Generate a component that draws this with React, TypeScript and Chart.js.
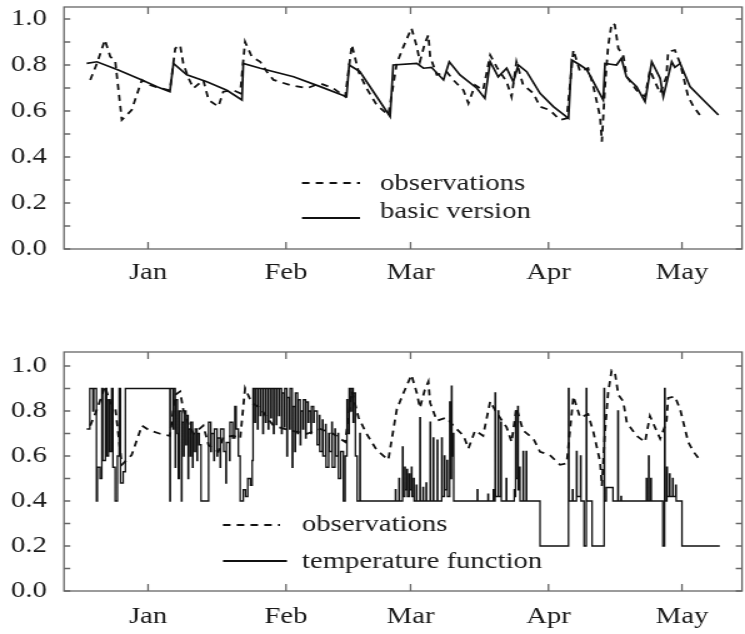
import React, { useEffect, useRef } from "react";
import { Chart, registerables } from "chart.js";

Chart.register(...registerables);

// ---------- axis data ----------
const monthDays = [0, 31, 59, 90, 120];
const monthLabels = ["Jan", "Feb", "Mar", "Apr", "May"];
const yTickValues = [0, 0.2, 0.4, 0.6, 0.8, 1.0];
const yMinorTicks = [0, 0.1, 0.2, 0.3, 0.4, 0.5, 0.6, 0.7, 0.8, 0.9, 1.0];
const xMin = -18.9;
const xMax = 133.5;

// ---------- series: observations (day of year, value) ----------
const obsDays = [
  -13.0, -11.5, -9.7, -8.5, -7.4, -5.9, -3.7, -1.4, 0.4, 2.7,
  4.9, 6.1, 7.2, 7.9, 9.1, 10.2, 12.4, 13.6, 15.8, 16.9,
  19.2, 20.7, 21.8, 23.3, 25.2, 26.7, 28.2, 31.9, 35.7, 38.7,
  41.6, 44.3, 45.8, 47.3, 49.1, 51.4, 54.0, 55.9, 57.4, 59.2,
  60.4, 61.1, 62.2, 63.0, 63.4, 64.9, 67.1, 68.6, 70.9, 72.0,
  73.5, 75.3, 76.9, 78.4, 80.6, 81.7, 82.8, 84.3, 86.6, 88.1,
  90.3, 92.6, 94.1, 95.6, 97.1, 98.9, 100.1, 101.6, 102.0, 102.7,
  103.4, 104.2, 104.9, 105.7, 106.8, 107.6, 109.8, 111.7, 112.8, 113.6,
  115.1, 116.5, 116.9, 118.4, 119.6, 121.4, 122.6, 124.0,
];
const obsValues = [
  0.735, 0.807, 0.909, 0.836, 0.82, 0.561, 0.604, 0.735, 0.713, 0.699,
  0.69, 0.872, 0.887, 0.807, 0.742, 0.699, 0.735, 0.648, 0.619, 0.684,
  0.69, 0.677, 0.901, 0.836, 0.814, 0.771, 0.735, 0.713, 0.699, 0.72,
  0.699, 0.662, 0.887, 0.771, 0.699, 0.626, 0.583, 0.807, 0.88, 0.96,
  0.88, 0.814, 0.894, 0.93, 0.836, 0.757, 0.771, 0.735, 0.69, 0.633,
  0.713, 0.69, 0.843, 0.79, 0.727, 0.662, 0.814, 0.713, 0.677, 0.619,
  0.604, 0.561, 0.568, 0.865, 0.771, 0.786, 0.706, 0.575, 0.467, 0.706,
  0.88, 0.981, 0.975, 0.872, 0.843, 0.749, 0.69, 0.662, 0.778, 0.742,
  0.677, 0.749, 0.858, 0.865, 0.807, 0.662, 0.619, 0.583,
];

// ---------- series: basic version ----------
const basicDays = [
  -13.8, -11.5, -6.7, -1.4, 2.0, 4.9, 5.7, 8.7, 13.2, 17.7,
  21.1, 21.4, 25.2, 32.7, 38.7, 44.6, 45.2, 47.6, 51.4, 54.4,
  55.1, 60.4, 61.9, 63.7, 66.4, 67.7, 70.1, 73.9, 75.7, 76.9,
  78.7, 80.6, 82.1, 83.2, 85.1, 88.1, 91.1, 94.5, 95.2, 97.1,
  98.6, 100.1, 102.3, 102.7, 105.3, 106.4, 107.5, 109.8, 111.7, 113.2,
  115.1, 115.8, 117.7, 118.4, 119.6, 121.8, 124.8, 128.2,
];
const basicValues = [
  0.807, 0.814, 0.778, 0.735, 0.705, 0.684, 0.807, 0.757, 0.727, 0.69,
  0.648, 0.807, 0.786, 0.749, 0.706, 0.662, 0.80, 0.771, 0.662, 0.575,
  0.80, 0.807, 0.786, 0.79, 0.735, 0.814, 0.757, 0.699, 0.655, 0.814,
  0.749, 0.786, 0.727, 0.80, 0.771, 0.677, 0.619, 0.568, 0.822, 0.80,
  0.78, 0.727, 0.648, 0.807, 0.80, 0.829, 0.749, 0.706, 0.641, 0.814,
  0.742, 0.662, 0.814, 0.79, 0.807, 0.706, 0.648, 0.583,
];

// ---------- series: temperature function (stepped, value holds until next day) ----------
const tempDays = [
  -13.8, -13.1, -12.4, -12.2, -11.6, -11.4, -10.8, -10.4, -10.2, -9.6,
  -9.3, -8.9, -8.6, -8.2, -7.9, -7.4, -6.9, -6.5, -6.2, -5.6, -5.1,
  4.9, 5.0, 5.6, 5.7, 6.1, 6.2, 6.6, 6.8, 7.0, 7.5,
  7.6, 8.0, 8.1, 8.5, 8.6, 9.0, 9.1, 9.5, 9.6, 10.0,
  10.1, 10.5, 10.6, 11.0, 11.1, 11.5, 11.9,
  13.6, 14.1, 14.2, 14.8, 14.9, 15.5, 15.6, 16.2, 16.3, 17.0,
  17.5, 17.6, 18.3, 18.4, 19.0, 19.5, 19.8, 20.3, 20.7, 21.4,
  21.9, 22.4, 23.0, 23.4, 23.6,
  24.0, 24.12, 24.6, 24.72, 25.2, 25.32, 25.8, 25.92, 26.4, 26.52,
  27.0, 27.12, 27.6, 27.72, 28.2, 28.32, 28.8, 28.92, 29.4, 29.52,
  30.0, 30.12, 30.6, 30.72, 31.2, 31.32, 31.8, 31.92, 32.4, 32.52,
  33.0, 33.12, 33.6, 33.72, 34.2, 34.32, 34.8, 34.92, 35.4, 35.52,
  36.0, 36.12, 36.6, 36.72, 37.2, 37.32,
  38.0, 38.5, 38.6, 39.2, 39.3, 39.9, 40.0, 40.6, 40.7, 41.3,
  41.4, 42.0, 42.1, 42.7, 42.8, 43.3, 43.9, 44.3, 44.7, 44.8,
  45.2, 45.6, 45.7, 46.1, 46.2, 46.6, 47.0, 47.6, 47.7,
  55.6, 55.7, 56.4, 56.5, 57.2, 57.3, 57.7, 57.8, 58.2, 58.3,
  58.7, 58.8, 59.2, 59.3, 59.7, 59.8, 60.3, 60.4, 61.1, 61.2,
  61.8, 61.9, 62.5, 62.6, 63.4, 63.5, 64.1, 64.2, 65.0, 65.1,
  66.0, 66.1, 66.6, 66.7, 67.2, 67.3, 67.8, 67.9, 68.2, 68.3,
  68.6, 68.7,
  74.0, 74.1, 76.4, 76.5, 77.6, 77.7, 78.0, 78.1, 78.7, 78.8,
  79.3, 79.4, 80.5, 80.6, 82.3, 82.4, 82.6, 82.7, 83.1, 83.2,
  83.5, 83.6, 84.3, 84.4, 85.0, 85.1,
  88.1, 94.5, 94.6, 95.4, 95.5, 96.3, 96.4, 97.2, 97.3, 98.0,
  98.5, 98.6, 99.8, 102.5, 102.6, 103.0, 104.5, 105.6, 105.7, 106.3,
  106.4, 112.0, 112.1, 112.5, 112.6, 113.0, 113.1, 115.7, 116.1, 116.2,
  116.6, 116.7, 117.2, 117.3, 117.9, 118.0, 118.6, 118.7, 120.0, 128.5,
];
const tempValues = [
  0.72, 0.9, 0.8, 0.9, 0.4, 0.55, 0.5, 0.9, 0.58, 0.9,
  0.6, 0.85, 0.62, 0.9, 0.55, 0.4, 0.6, 0.9, 0.48, 0.53, 0.9,
  0.4, 0.9, 0.72, 0.9, 0.55, 0.85, 0.7, 0.5, 0.8, 0.4,
  0.75, 0.6, 0.8, 0.65, 0.78, 0.5, 0.72, 0.6, 0.75, 0.55,
  0.7, 0.62, 0.72, 0.58, 0.7, 0.65, 0.4,
  0.75, 0.62, 0.7, 0.58, 0.72, 0.6, 0.68, 0.55, 0.72, 0.62,
  0.48, 0.66, 0.58, 0.75, 0.68, 0.82, 0.72, 0.6, 0.4, 0.45,
  0.42, 0.5, 0.47, 0.58, 0.9,
  0.75, 0.9, 0.72, 0.9, 0.78, 0.9, 0.7, 0.9, 0.75, 0.9,
  0.72, 0.9, 0.77, 0.9, 0.7, 0.9, 0.74, 0.9, 0.78, 0.9,
  0.7, 0.88, 0.73, 0.9, 0.6, 0.86, 0.72, 0.9, 0.55, 0.82,
  0.62, 0.88, 0.7, 0.85, 0.65, 0.8, 0.72, 0.85, 0.68, 0.84,
  0.75, 0.8, 0.7, 0.82, 0.75, 0.8,
  0.65, 0.78, 0.62, 0.76, 0.6, 0.74, 0.55, 0.7, 0.62, 0.75,
  0.55, 0.72, 0.6, 0.7, 0.5, 0.62, 0.4, 0.6, 0.85, 0.7,
  0.9, 0.8, 0.9, 0.75, 0.88, 0.6, 0.4, 0.7, 0.4,
  0.45, 0.4, 0.5, 0.4, 0.64, 0.42, 0.55, 0.45, 0.54, 0.42,
  0.52, 0.45, 0.55, 0.42, 0.5, 0.4, 0.47, 0.4, 0.77, 0.4,
  0.46, 0.4, 0.48, 0.4, 0.75, 0.4, 0.68, 0.4, 0.67, 0.4,
  0.68, 0.42, 0.6, 0.45, 0.58, 0.42, 0.84, 0.5, 0.91, 0.6,
  0.7, 0.4,
  0.45, 0.4, 0.43, 0.4, 0.45, 0.4, 0.88, 0.42, 0.8, 0.42,
  0.75, 0.4, 0.5, 0.4, 0.45, 0.42, 0.8, 0.5, 0.82, 0.45,
  0.55, 0.4, 0.62, 0.4, 0.62, 0.4,
  0.2, 0.9, 0.4, 0.45, 0.4, 0.62, 0.42, 0.6, 0.4, 0.2,
  0.9, 0.4, 0.2, 0.9, 0.4, 0.46, 0.4, 0.8, 0.4, 0.42,
  0.4, 0.5, 0.4, 0.6, 0.4, 0.5, 0.4, 0.2, 0.9, 0.4,
  0.55, 0.42, 0.52, 0.42, 0.5, 0.42, 0.47, 0.4, 0.2, 0.2,
];

const obsLabel = "observations";
const basicLabel = "basic version";
const tempLabel = "temperature function";

// ---------- drawing settings ----------
const FONT = '"Liberation Serif", "Times New Roman", Times, serif';
const FONT_SIZE = 23;
const TEXT_COLOR = "#1a1a1a";
const LINE_COLOR = "#111";
const FRAME_COLOR = "#666";
const CANVAS_W = 596; // drawn width, stretched to 745 css px
const CSS_W = 745;

function toPoints(xs: number[], ys: number[]) {
  return xs.map((x, i) => ({ x, y: ys[i] }));
}

const framePlugin = {
  id: "frame",
  afterDatasetsDraw(chart: any) {
    const { ctx, chartArea: a, scales } = chart;
    const x = scales.x;
    const y = scales.y;
    ctx.save();
    ctx.strokeStyle = FRAME_COLOR;
    ctx.lineWidth = 1.3;
    ctx.setLineDash([]);
    ctx.strokeRect(a.left, a.top, a.right - a.left, a.bottom - a.top);
    ctx.beginPath();
    for (const v of yMinorTicks) {
      const py = y.getPixelForValue(v);
      ctx.moveTo(a.left, py);
      ctx.lineTo(a.left + 5, py);
      ctx.moveTo(a.right, py);
      ctx.lineTo(a.right - 5, py);
    }
    for (const d of monthDays) {
      const px = x.getPixelForValue(d);
      ctx.moveTo(px, a.bottom);
      ctx.lineTo(px, a.bottom - 7);
      ctx.moveTo(px, a.top);
      ctx.lineTo(px, a.top + 7);
    }
    ctx.stroke();
    ctx.restore();
  },
};

const legendPlugin = {
  id: "boxLegend",
  afterDraw(chart: any, _args: any, opts: any) {
    const { ctx } = chart;
    ctx.save();
    chart.data.datasets.forEach((ds: any, i: number) => {
      const ly = opts.lineY[i];
      ctx.strokeStyle = ds.borderColor;
      ctx.lineWidth = 1.8;
      ctx.setLineDash(ds.borderDash || []);
      ctx.beginPath();
      ctx.moveTo(opts.sampleX, ly);
      ctx.lineTo(opts.sampleX + opts.sampleLen[i], ly);
      ctx.stroke();
      ctx.setLineDash([]);
      ctx.fillStyle = TEXT_COLOR;
      ctx.font = `${FONT_SIZE}px ${FONT}`;
      ctx.textAlign = "left";
      ctx.textBaseline = "middle";
      ctx.fillText(ds.label, opts.textX, opts.rows[i]);
    });
    ctx.restore();
  },
};

function makeConfig(
  datasets: any[],
  canvasH: number,
  plotTop: number,
  plotBottom: number,
  yMax: number,
  xLabelPad: number,
  legend: any
) {
  const plotLeft = 51.2;
  const plotRight = 593.6;
  const xAxisH = 40;
  return {
    type: "line",
    data: { datasets },
    plugins: [framePlugin, legendPlugin],
    options: {
      responsive: false,
      animation: false,
      devicePixelRatio: 1,
      events: [],
      layout: {
        padding: {
          left: 0,
          right: CANVAS_W - plotRight,
          top: plotTop,
          bottom: canvasH - plotBottom - xAxisH,
        },
      },
      elements: { point: { radius: 0 }, line: { tension: 0 } },
      plugins: {
        legend: { display: false },
        tooltip: { enabled: false },
        boxLegend: legend,
      },
      scales: {
        x: {
          type: "linear",
          min: xMin,
          max: xMax,
          grid: { display: false, drawTicks: false },
          border: { display: false },
          afterBuildTicks: (s: any) => {
            s.ticks = monthDays.map((v) => ({ value: v }));
          },
          afterFit: (s: any) => {
            s.height = xAxisH;
            s.paddingLeft = 0;
            s.paddingRight = 0;
          },
          ticks: {
            autoSkip: false,
            maxRotation: 0,
            padding: xLabelPad,
            color: TEXT_COLOR,
            font: { family: FONT, size: FONT_SIZE },
            callback: (v: number) => monthLabels[monthDays.indexOf(v)],
          },
        },
        y: {
          type: "linear",
          min: 0,
          max: yMax,
          grid: { display: false, drawTicks: false },
          border: { display: false },
          afterBuildTicks: (s: any) => {
            s.ticks = yTickValues.map((v) => ({ value: v }));
          },
          afterFit: (s: any) => {
            s.width = plotLeft;
            s.paddingTop = 0;
            s.paddingBottom = 0;
          },
          ticks: {
            padding: 13.6,
            color: TEXT_COLOR,
            font: { family: FONT, size: FONT_SIZE },
            callback: (v: number) => Number(v).toFixed(1),
          },
        },
      },
    },
  };
}

export default function App() {
  const topRef = useRef<HTMLCanvasElement | null>(null);
  const botRef = useRef<HTMLCanvasElement | null>(null);

  useEffect(() => {
    const obsStyle = {
      label: obsLabel,
      borderColor: LINE_COLOR,
      borderWidth: 1.8,
      borderDash: [6, 5],
      fill: false,
      pointRadius: 0,
    };
    const top = new Chart(
      topRef.current as HTMLCanvasElement,
      makeConfig(
        [
          { ...obsStyle, data: toPoints(obsDays, obsValues) },
          {
            label: basicLabel,
            data: toPoints(basicDays, basicValues),
            borderColor: LINE_COLOR,
            borderWidth: 1.7,
            fill: false,
            pointRadius: 0,
          },
        ],
        310,
        7,
        249,
        1.0522,
        10,
        { sampleX: 241.6, sampleLen: [46.4, 46.4], textX: 304, rows: [184, 212], lineY: [183, 218] }
      ) as any
    );
    const bot = new Chart(
      botRef.current as HTMLCanvasElement,
      makeConfig(
        [
          { ...obsStyle, data: toPoints(obsDays, obsValues) },
          {
            label: tempLabel,
            data: toPoints(tempDays, tempValues),
            borderColor: LINE_COLOR,
            borderWidth: 1.3,
            stepped: true,
            fill: false,
            pointRadius: 0,
          },
        ],
        324,
        42,
        281,
        1.0622,
        12,
        { sampleX: 178.4, sampleLen: [45.6, 51.2], textX: 241.6, rows: [215, 252], lineY: [215, 251] }
      ) as any
    );
    return () => {
      top.destroy();
      bot.destroy();
    };
  }, []);

  return (
    <div style={{ position: "absolute", left: 0, top: 0, width: CSS_W, height: 634, background: "#fff" }}>
      <canvas
        ref={topRef}
        width={CANVAS_W}
        height={310}
        style={{ display: "block", width: CSS_W + "px", height: "310px" }}
      />
      <canvas
        ref={botRef}
        width={CANVAS_W}
        height={324}
        style={{ display: "block", width: CSS_W + "px", height: "324px" }}
      />
    </div>
  );
}
